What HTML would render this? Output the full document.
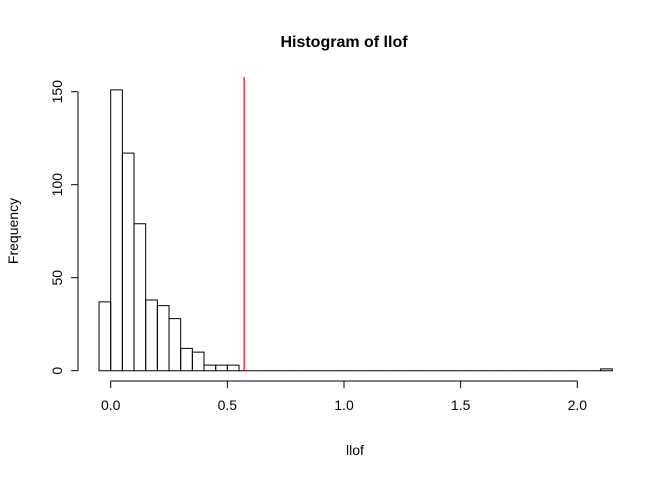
<!DOCTYPE html>
<html><head><meta charset="utf-8"><style>body{margin:0;background:#fff}svg{display:block;font-family:"Liberation Sans",sans-serif}</style></head>
<body>
<svg id="chart" width="672" height="480" viewBox="0 0 672 480">
<text x="344" y="47" text-anchor="middle" font-size="16" font-weight="bold">Histogram of llof</text>
<text x="355" y="455" text-anchor="middle" font-size="14">llof</text>
<text transform="translate(18,231) rotate(-90)" text-anchor="middle" font-size="14">Frequency</text>
<g id="bars"></g>
<g id="xaxis"></g>
<g id="yaxis"></g>
<g id="ref"></g>
</svg>
<script>
const binStart = -0.05;
const binWidth = 0.05;
const counts = [37,151,117,79,38,35,28,12,10,3,3,3,0,0,0,0,0,0,0,0,0,0,0,0,0,0,0,0,0,0,0,0,0,0,0,0,0,0,0,0,0,0,0,1];
const xTicks = [0,0.5,1,1.5,2];
const xTickLabels = ["0.0","0.5","1.0","1.5","2.0"];
const yTicks = [0,50,100,150];
const yTickLabels = ["0","50","100","150"];
const refLine = [0.572];

const NS="http://www.w3.org/2000/svg";
const sx = v => 110.7 + v*233.3;
const sy = v => 370.7 - v*1.86;
function mk(tag, attrs, parent){const e=document.createElementNS(NS,tag);for(const k in attrs)e.setAttribute(k,attrs[k]);parent.appendChild(e);return e;}
const bars=document.getElementById('bars');
counts.forEach((c,i)=>{
  const x0=sx(binStart+i*binWidth), x1=sx(binStart+(i+1)*binWidth);
  const b=sy(0), t=sy(c);
  const p=mk('path',{d:`M${x0},${b}V${t}H${x1}V${b}Z`,fill:'none',stroke:'#000','stroke-width':1},bars);
  
  
});
const xa=document.getElementById('xaxis');
const xl=mk('line',{x1:sx(xTicks[0]),x2:sx(xTicks[xTicks.length-1]),y1:381,y2:381,stroke:'#000'},xa);


xTicks.forEach((t,i)=>{
  const l=mk('line',{x1:sx(t),x2:sx(t),y1:381,y2:388,stroke:'#000'},xa);
  
  
  const tx=mk('text',{x:sx(t),y:410,'text-anchor':'middle','font-size':14},xa);
  tx.textContent=xTickLabels[i];
  
  
});
const ya=document.getElementById('yaxis');
const yl=mk('line',{x1:78,x2:78,y1:sy(yTicks[0]),y2:sy(yTicks[yTicks.length-1]),stroke:'#000'},ya);


yTicks.forEach((t,i)=>{
  const l=mk('line',{x1:71,x2:78,y1:sy(t),y2:sy(t),stroke:'#000'},ya);
  
  
  const tx=mk('text',{transform:`translate(62,${sy(t)}) rotate(-90)`,'text-anchor':'middle','font-size':14},ya);
  tx.textContent=yTickLabels[i];
  
  
});
const rg=document.getElementById('ref');
refLine.forEach(v=>{
  const l=mk('line',{x1:sx(v),x2:sx(v),y1:77,y2:371,stroke:'#ff0000','stroke-width':1.2},rg);
  
  
});
</script>
</body></html>
